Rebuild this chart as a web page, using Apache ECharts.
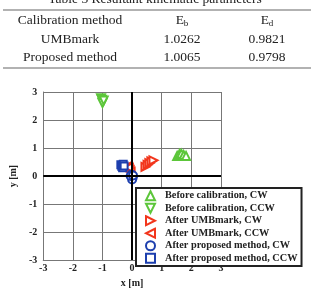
<!DOCTYPE html>
<html>
<head>
<meta charset="utf-8">
<script src="https://cdn.jsdelivr.net/npm/echarts@6/dist/echarts.min.js"></script>
<style>
  html, body { margin: 0; padding: 0; background: #fff; }
  #chart { width: 311px; height: 293px; }
</style>
</head>
<body>
<div id="chart"></div>
<script>
// table rows
const tableHeader = ["Calibration method", "E{sub|b}", "E{sub|d}"];
const tableRows = [
  ["UMBmark", "1.0262", "0.9821"],
  ["Proposed method", "1.0065", "0.9798"]
];

// axis ticks
const axisMin = -3;
const axisMax = 3;

// end positions [x, y] in metres
const beforeCW = [[1.52, 0.72], [1.6, 0.79], [1.66, 0.8], [1.74, 0.75], [1.82, 0.72]];
const beforeCCW = [[-1.05, 2.78], [-1.02, 2.72], [-0.99, 2.66], [-1.0, 2.61], [-0.96, 2.7]];
const umbCW = [[0.45, 0.33], [0.52, 0.4], [0.58, 0.46], [0.65, 0.52], [0.72, 0.56]];
const umbCCW = [[-0.15, 0.35], [-0.11, 0.28], [-0.08, 0.21], [-0.05, 0.15], [-0.13, 0.31]];
const propCW = [[-0.02, 0.05], [0.02, -0.05], [0.0, -0.12], [-0.05, 0.0], [0.03, 0.02]];
const propCCW = [[-0.38, 0.4], [-0.35, 0.35], [-0.3, 0.42], [-0.32, 0.3], [-0.27, 0.36]];

const green = "#5cc63a";
const red = "#f2361c";
const blue = "#1d3fae";
const serif = "Liberation Serif";

// triangle shapes pointing up / down / right / left
const triUp = "path://M5,0L10,10L0,10Z";
const triDown = "path://M0,0L10,0L5,10Z";
const triRight = "path://M0,0L10,5L0,10Z";
const triLeft = "path://M10,0L0,5L10,10Z";

const seriesList = [
  { name: "Before calibration, CW", data: beforeCW, symbol: triUp, color: green, size: 8 },
  { name: "Before calibration, CCW", data: beforeCCW, symbol: triDown, color: green, size: 8 },
  { name: "After UMBmark, CW", data: umbCW, symbol: triRight, color: red, size: 8 },
  { name: "After UMBmark, CCW", data: umbCCW, symbol: triLeft, color: red, size: 8 },
  { name: "After proposed method, CW", data: propCW, symbol: "circle", color: blue, size: 8 },
  { name: "After proposed method, CCW", data: propCCW, symbol: "rect", color: blue, size: 7 },
];

const tableCols = [70, 182, 267];
const tableY = [20, 39, 57];
const tableText = [];
[tableHeader].concat(tableRows).forEach((row, r) => {
  row.forEach((cell, c) => {
    tableText.push({
      type: "text",
      x: tableCols[c],
      y: tableY[r],
      style: {
        text: cell,
        font: "13.5px '" + serif + "'",
        fill: "#222",
        align: "center",
        verticalAlign: "middle",
        rich: {
          sub: { fontSize: 9, fontFamily: serif, fill: "#222", padding: [8, 0, 0, 0] },
        },
      },
    });
  });
});

const series = seriesList.map((s) => ({
  name: s.name,
  type: "scatter",
  data: s.data,
  symbol: s.symbol,
  symbolSize: s.size,
  itemStyle: {
    color: "#fff",
    borderColor: s.color,
    borderWidth: 2,
    opacity: 1,
  },
}));
// black zero lines
series[0].markLine = {
  silent: true,
  symbol: "none",
  label: { show: false },
  lineStyle: { color: "#000", width: 2, type: "solid" },
  data: [{ xAxis: 0 }, { yAxis: 0 }],
};

const myChart = echarts.init(document.getElementById("chart"));
const option = {
  animation: false,
  backgroundColor: "#fff",
  grid: {
    left: 42,
    right: 90,
    top: 92,
    bottom: 21.5,
  },
  graphic: [
    {
      type: "text",
      x: 155,
      y: -1,
      style: {
        text: "Table 3 Resultant kinematic parameters",
        font: "13.5px '" + serif + "'",
        fill: "#222",
        align: "center",
        verticalAlign: "middle",
      },
    },
    {
      type: "line",
      shape: { x1: 3, y1: 10, x2: 311, y2: 10 },
      style: { stroke: "#999", lineWidth: 1.5 },
    },
    {
      type: "line",
      shape: { x1: 3, y1: 68, x2: 311, y2: 68 },
      style: { stroke: "#999", lineWidth: 1.5 },
    },
  ].concat(tableText),
  legend: {
    orient: "vertical",
    left: 136,
    top: 188,
    padding: [2, 4, 2, 9],
    itemGap: 1,
    itemWidth: 9,
    itemHeight: 9,
    backgroundColor: "#fff",
    borderColor: "#222",
    borderWidth: 2,
    data: seriesList.map((s) => ({
      name: s.name,
      icon: s.symbol,
      itemStyle: { color: "#fff", borderColor: s.color, borderWidth: 2 },
    })),
    textStyle: {
      fontFamily: serif,
      fontWeight: "bold",
      fontSize: 10.3,
      lineHeight: 11.5,
      color: "#222",
      padding: [0, 0, 0, 5],
    },
  },
  xAxis: {
    type: "value",
    min: axisMin,
    max: axisMax,
    interval: 1,
    name: "x [m]",
    nameLocation: "middle",
    nameGap: 13,
    nameTextStyle: { fontFamily: serif, fontWeight: "bold", fontSize: 10, color: "#222" },
    axisLine: { onZero: false, lineStyle: { color: "#777", width: 1 } },
    axisTick: { show: false },
    axisLabel: { fontFamily: serif, fontWeight: "bold", fontSize: 10, color: "#222", margin: 3 },
    splitLine: { show: true, lineStyle: { color: "#777", width: 1 } },
  },
  yAxis: {
    type: "value",
    min: axisMin,
    max: axisMax,
    interval: 1,
    name: "y [m]",
    nameLocation: "middle",
    nameRotate: 90,
    nameGap: 19,
    nameTextStyle: { fontFamily: serif, fontWeight: "bold", fontSize: 10, color: "#222" },
    axisLine: { onZero: false, lineStyle: { color: "#777", width: 1 } },
    axisTick: { show: false },
    axisLabel: { fontFamily: serif, fontWeight: "bold", fontSize: 10, color: "#222", margin: 6 },
    splitLine: { show: true, lineStyle: { color: "#777", width: 1 } },
  },
  series: series,
};
myChart.setOption(option);
</script>
</body>
</html>
